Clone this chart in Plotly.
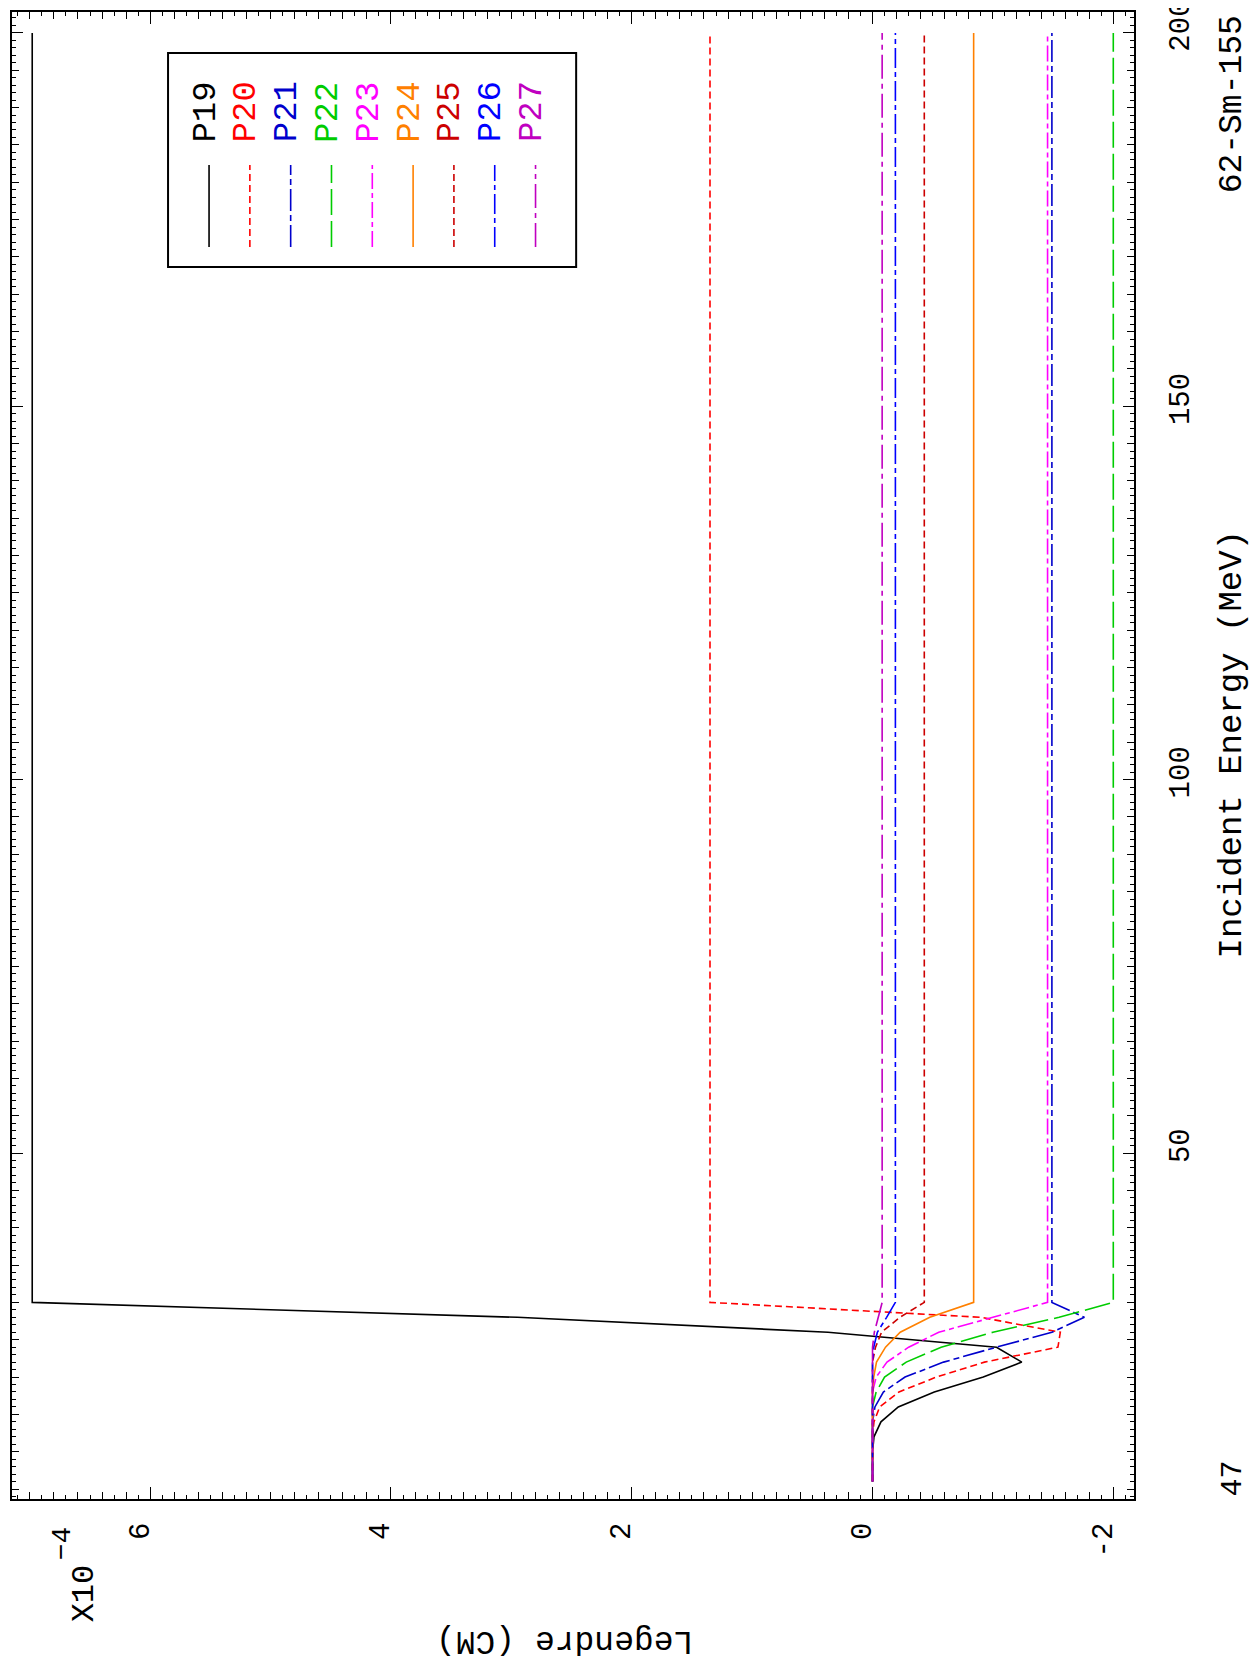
import plotly.graph_objects as go

# Incident energy grid (MeV)
energy = [6, 8, 10, 12, 14, 16, 18, 20, 22, 24, 26, 28, 30, 200]

# Legendre coefficients (CM), in units of 1e-4
P19 = [0, 0, 0, -0.012, -0.07, -0.214, -0.513, -0.92, -1.24, -1.03, 0.37, 2.95, 6.98, 6.98]
P20 = [0, 0, 0, 0, -0.012, -0.06, -0.22, -0.53, -0.93, -1.54, -1.56, -0.9, 1.35, 1.35]
P21 = [0, 0, 0, 0, 0, -0.02, -0.09, -0.27, -0.59, -1.03, -1.49, -1.76, -1.49, -1.49]
P22 = [0, 0, 0, 0, 0, 0, -0.03, -0.10, -0.28, -0.57, -1.0, -1.55, -2.0, -2.0]
P23 = [0, 0, 0, 0, 0, 0, 0, -0.03, -0.12, -0.30, -0.55, -1.0, -1.454, -1.454]
P24 = [0, 0, 0, 0, 0, 0, 0, -0.01, -0.033, -0.108, -0.23, -0.476, -0.84, -0.84]
P25 = [0, 0, 0, 0, 0, 0, 0, 0, 0, -0.025, -0.075, -0.227, -0.43, -0.43]
P26 = [0, 0, 0, 0, 0, 0, 0, 0, 0, -0.01, -0.04, -0.117, -0.19, -0.19]
P27 = [0, 0, 0, 0, 0, 0, 0, 0, 0, 0, -0.015, -0.05, -0.08, -0.08]

names = ["P19", "P20", "P21", "P22", "P23", "P24", "P25", "P26", "P27"]
series = [P19, P20, P21, P22, P23, P24, P25, P26, P27]
colors = ["#000000", "#ff0000", "#0000cc", "#00cc00", "#ff00ff",
          "#ff8000", "#cc0000", "#0000ff", "#c000c0"]
dashes = ["solid", "7px,4px", "22px,4px,6px,4px", "26px,6px", "16px,4px,5px,4px",
          "solid", "7px,4px", "20px,4px,5px,4px", "24px,5px,5px,5px"]

x_ticks = [-2, 0, 2, 4, 6]
y_ticks = [50, 100, 150, 200]
x_range = [7.148, -2.172]
y_range = [3.67, 202.8]

W, H = 1260, 1667
ML, MR, MT, MB = 4, 134.3, 4, 176.3
PW = W - ML - MR
PH = H - MT - MB


def px(x):
    return (x - ML) / PW


def py(y):
    return (H - MB - y) / PH


FONT = "Liberation Mono"

fig = go.Figure()
for n, s, c, d in zip(names, series, colors, dashes):
    fig.add_trace(go.Scatter(x=s, y=energy, mode="lines", name=n,
                             line=dict(color=c, width=1.6, dash=d),
                             showlegend=False))

fig.update_layout(
    width=W, height=H,
    margin=dict(l=ML, r=MR, t=MT, b=MB, autoexpand=False),
    paper_bgcolor="white", plot_bgcolor="white",
    showlegend=False,
    xaxis=dict(range=x_range, tickvals=x_ticks, ticktext=[str(v) for v in x_ticks],
               ticks="inside", ticklen=12, tickwidth=1.2, tickcolor="black",
               showline=True, linewidth=2, linecolor="black", mirror="ticks",
               showgrid=False, zeroline=False, tickangle=-90,
               tickfont=dict(family=FONT, size=29, color="black"),
               ticklabelstandoff=10, ticklabelshift=11, ticklabeloverflow="allow",
               automargin=False,
               minor=dict(dtick=0.1, tick0=0, ticks="inside", ticklen=4,
                          tickwidth=1, tickcolor="black", showgrid=False)),
    xaxis2=dict(range=x_range, overlaying="x", anchor="y", side="bottom",
                dtick=0.2, tick0=0, ticks="inside", ticklen=7, tickwidth=1,
                tickcolor="black", showticklabels=False, showline=False,
                mirror="ticks", showgrid=False, zeroline=False, automargin=False),
    yaxis=dict(range=y_range, tickvals=y_ticks, ticktext=[str(v) for v in y_ticks],
               side="right", ticks="inside", ticklen=11, tickwidth=1.2,
               tickcolor="black", showline=True, linewidth=2, linecolor="black",
               mirror="ticks", showgrid=False, zeroline=False, tickangle=-90,
               tickfont=dict(family=FONT, size=29, color="black"),
               ticklabelstandoff=18, ticklabelshift=-3, ticklabeloverflow="allow",
               automargin=False,
               minor=dict(dtick=1, tick0=0, ticks="inside", ticklen=4,
                          tickwidth=1, tickcolor="black", showgrid=False)),
    yaxis2=dict(range=y_range, overlaying="y", anchor="x", side="right",
                dtick=5, tick0=0, ticks="inside", ticklen=7, tickwidth=1,
                tickcolor="black", showticklabels=False, showline=False,
                mirror="ticks", showgrid=False, zeroline=False, automargin=False),
)
# dummy traces so overlay axes render
fig.add_trace(go.Scatter(x=[None], y=[None], xaxis="x2", yaxis="y", showlegend=False))
fig.add_trace(go.Scatter(x=[None], y=[None], xaxis="x", yaxis="y2", showlegend=False))

ann = []
ann.append(dict(x=px(1224), y=py(736), text="Incident Energy (MeV)", textangle=-90,
                font=dict(family=FONT, size=34, color="black")))
ann.append(dict(x=px(1224), y=py(96), text="62-Sm-155", textangle=-90,
                font=dict(family=FONT, size=33, color="black")))
ann.append(dict(x=px(1225), y=py(1470), text="47", textangle=-90,
                font=dict(family=FONT, size=30, color="black")))
ann.append(dict(x=px(557), y=py(1632), text="Legendre (CM)", textangle=180,
                font=dict(family=FONT, size=33, color="black")))
ann.append(dict(x=px(76), y=py(1585), text="X10", textangle=-90,
                font=dict(family=FONT, size=32, color="black")))
ann.append(dict(x=px(54), y=py(1535), text="\u22124", textangle=-90,
                font=dict(family=FONT, size=28, color="black")))

shapes = []
# legend box
shapes.append(dict(type="rect", xref="paper", yref="paper",
                   x0=px(160), x1=px(568), y0=py(259), y1=py(45),
                   line=dict(color="black", width=2), fillcolor="white", layer="above"))
for i, (n, c, d) in enumerate(zip(names, colors, dashes)):
    lx = 201 + 40.8 * i
    shapes.append(dict(type="line", xref="paper", yref="paper",
                       x0=px(lx), x1=px(lx), y0=py(239), y1=py(157),
                       line=dict(color=c, width=1.6, dash=d), layer="above"))
    ann.append(dict(x=px(lx - 3.5), y=py(104), text=n, textangle=-90,
                    font=dict(family=FONT, size=34, color=c)))

for a in ann:
    a.update(xref="paper", yref="paper", showarrow=False,
             xanchor="center", yanchor="middle")

fig.update_layout(annotations=ann, shapes=shapes)
fig.write_html("out.html")
